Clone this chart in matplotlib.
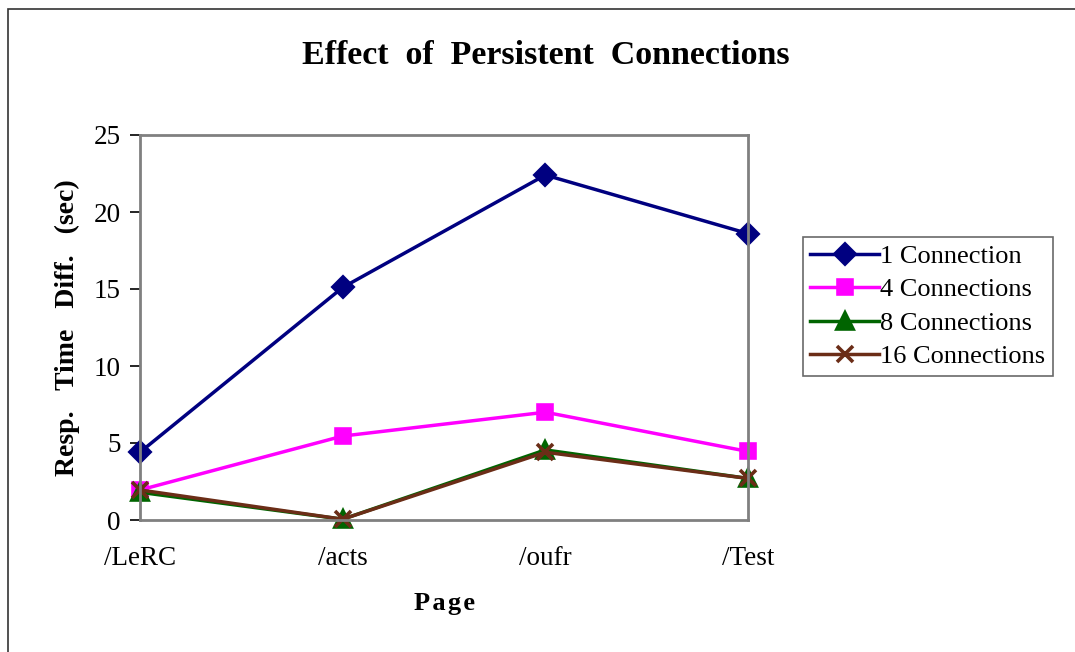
import matplotlib
matplotlib.use("Agg")
import matplotlib.pyplot as plt
from matplotlib.patches import Rectangle

plt.rcParams["font.family"] = ["Liberation Serif", "DejaVu Serif"]

pages = ["/LeRC", "/acts", "/oufr", "/Test"]
one_conn = [4.4, 15.1, 22.4, 18.6]
four_conn = [1.95, 5.45, 7.0, 4.45]
eight_conn = [1.8, 0.05, 4.55, 2.7]
sixteen_conn = [1.95, 0.05, 4.4, 2.7]

fig = plt.figure(figsize=(10.75, 6.52), dpi=100)
fig.patch.set_facecolor("white")

# outer chart border (only left and top edges fall inside the canvas)
fig.patches.append(Rectangle((8 / 1075, -0.1), 1.2, 1 - 9 / 652 + 0.1,
                             transform=fig.transFigure, fill=False,
                             edgecolor="#333333", lw=1.2))

ax = fig.add_axes([140 / 1075, 1 - 520 / 652, 608 / 1075, 385 / 652])
x = range(len(pages))

series = [
    (one_conn, "1 Connection", "#000080", "D", 10.5),
    (four_conn, "4 Connections", "#FF00FF", "s", 10.5),
    (eight_conn, "8 Connections", "#006400", "^", 12),
    (sixteen_conn, "16 Connections", "#6B2D17", "x", 11),
]
for vals, lab, col, mk, ms in series:
    ax.plot(x, vals, color=col, lw=2.5, marker=mk, markersize=ms,
            markerfacecolor=col, markeredgecolor=col, markeredgewidth=2.6,
            label=lab, clip_on=False)

ax.set_xlim(0, 3)
ax.set_ylim(0, 25)
ax.set_yticks(range(0, 26, 5))
ax.set_xticks(list(x))
ax.set_xticklabels(pages)
ax.tick_params(axis="y", direction="out", length=7, width=1.2, color="black",
               labelsize=19.5, pad=7)
ax.tick_params(axis="x", length=0, labelsize=19.5, pad=19)
for s in ax.spines.values():
    s.set_color("#808080")
    s.set_linewidth(2)

ax.set_xlabel("P\u200aa\u200ag\u200ae", fontsize=19, fontweight="bold", labelpad=15)
ax.set_ylabel("Resp.   Time   Diff.   (sec)", fontsize=20, fontweight="bold",
              labelpad=10)
fig.text(546 / 1075, 1 - 56 / 652, "Effect  of  Persistent  Connections",
         ha="center", va="center", fontsize=24.5, fontweight="bold")

leg = ax.legend(loc="upper left", bbox_to_anchor=(803 / 1075, 1 - 237 / 652),
                bbox_transform=fig.transFigure, fontsize=19, frameon=True,
                fancybox=False, edgecolor="#444444", handlelength=2.6,
                handletextpad=0.05, borderpad=0.28, labelspacing=0.38,
                borderaxespad=0)
leg.get_frame().set_linewidth(1.2)

fig.savefig("out.png", dpi=100, facecolor="white")
